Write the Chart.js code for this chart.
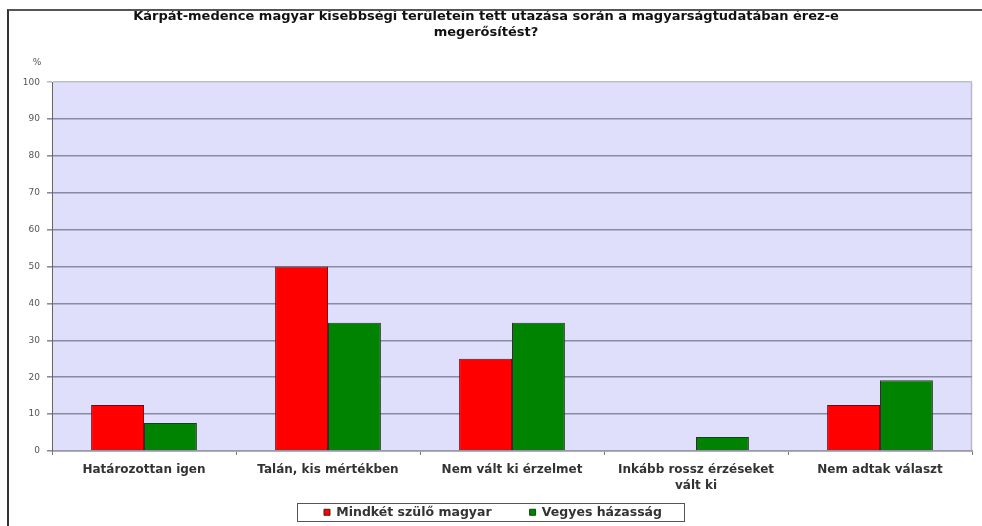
<!DOCTYPE html>
<html>
<head>
<meta charset="utf-8">
<script src="https://cdn.jsdelivr.net/npm/chart.js@4"></script>
<style>
  html, body { margin: 0; padding: 0; background: #fff; }
  #wrap { position: absolute; left: 0; top: 0; width: 982px; height: 526px; }
  #frame { position: absolute; left: 7px; top: 9px; right: 0; bottom: -2px;
           border-top: 2px solid #555; border-left: 2px solid #333; }
</style>
</head>
<body>
<div id="wrap">
  <div id="frame"></div>
  <canvas id="myChart" width="982" height="526"></canvas>
</div>
<script>
var categories = [
  "Határozottan igen",
  "Talán, kis mértékben",
  "Nem vált ki érzelmet",
  ["Inkább rossz érzéseket", "vált ki"],
  "Nem adtak választ"
];
var seriesNames = ["Mindkét szülő magyar", "Vegyes házasság"];
var bothHungarian = [12.5, 50, 25, 0, 12.5];
var mixedMarriage = [7.6, 34.8, 34.8, 3.8, 19.2];
var barColors = ["#ff0000", "#008300"];
var yTicks = [0, 10, 20, 30, 40, 50, 60, 70, 80, 90, 100];

var plotBackground = {
  id: "plotBackground",
  afterLayout: function (chart) {
    // legend keeps wide item spacing but sits low, below the axis labels
    var lg = chart.legend;
    lg.top = 468;
    lg.bottom = chart.height;
    lg.height = lg.bottom - lg.top;
    lg.left += 7;
    lg.right += 7;
  },
  beforeDraw: function (chart) {
    var a = chart.chartArea, ctx = chart.ctx;
    ctx.save();
    ctx.fillStyle = "#dfdffb";
    ctx.fillRect(a.left, a.top, a.right - a.left, a.bottom - a.top);
    ctx.strokeStyle = "#b8b8c8";
    ctx.lineWidth = 1.5;
    ctx.beginPath();
    ctx.moveTo(a.right - 0.5, a.top);
    ctx.lineTo(a.right - 0.5, a.bottom);
    ctx.stroke();
    ctx.restore();
  },
  afterDraw: function (chart) {
    var a = chart.chartArea, ctx = chart.ctx;
    ctx.save();
    ctx.fillStyle = "#555";
    ctx.font = "9px 'DejaVu Sans'";
    ctx.textAlign = "center";
    ctx.fillText("%", a.left - 15, a.top - 20);
    // legend frame
    var boxes = chart.legend.legendHitBoxes;
    if (boxes && boxes.length) {
      var l = Infinity, r = -Infinity, t = Infinity, b = -Infinity;
      boxes.forEach(function (h) {
        l = Math.min(l, h.left); r = Math.max(r, h.left + h.width);
        t = Math.min(t, h.top); b = Math.max(b, h.top + h.height);
      });
      var mid = (t + b) / 2;
      ctx.strokeStyle = "#555";
      ctx.lineWidth = 1;
      ctx.strokeRect(Math.round(l - 27) + 0.5, Math.round(mid - 9) + 0.5,
                     Math.round(r - l + 49), 18);
    }
    ctx.restore();
  }
};

new Chart("myChart", {
  type: "bar",
  data: {
    labels: categories,
    datasets: [{
      label: seriesNames[0],
      data: bothHungarian,
      backgroundColor: barColors[0],
      borderColor: "#3a2020",
      borderWidth: 1,
      categoryPercentage: 0.575,
      barPercentage: 1
    }, {
      label: seriesNames[1],
      data: mixedMarriage,
      backgroundColor: barColors[1],
      borderColor: "#203a20",
      borderWidth: 1,
      categoryPercentage: 0.575,
      barPercentage: 1
    }]
  },
  options: {
    responsive: false,
    animation: false,
    layout: { padding: { left: 0, right: 10, top: 0, bottom: 0 } },
    plugins: {
      title: {
        display: true,
        text: ["Kárpát-medence magyar kisebbségi területein tett utazása során a magyarságtudatában érez-e",
               "megerősítést?"],
        font: { family: "'DejaVu Sans'", size: 13, weight: "bold" },
        lineHeight: 1.2,
        color: "#111",
        padding: { top: 9, bottom: 42 }
      },
      legend: {
        position: "bottom",
        maxHeight: 30,
        labels: {
          font: { family: "'DejaVu Sans'", size: 12.5, weight: "bold" },
          color: "#333",
          boxWidth: 6,
          boxHeight: 6,
          padding: 38
        }
      },
      tooltip: { enabled: false }
    },
    scales: {
      x: {
        afterFit: function (scale) { scale.height = 45; },
        grid: {
          display: true,
          drawOnChartArea: false,
          offset: true,
          tickLength: 4,
          color: "#777"
        },
        border: { color: "#9a9aaa", width: 1.5 },
        ticks: {
          font: { family: "'DejaVu Sans'", size: 12, weight: "bold", lineHeight: 1.3 },
          color: "#333",
          padding: 7,
          maxRotation: 0,
          autoSkip: false
        }
      },
      y: {
        min: 0,
        max: 100,
        afterFit: function (scale) { scale.width = 52; },
        afterBuildTicks: function (scale) {
          scale.ticks = yTicks.map(function (v) { return { value: v }; });
        },
        grid: {
          color: function (ctx) {
            return ctx.tick && ctx.tick.value === 100 ? "#bcbccc" : "#8a8aa8";
          },
          lineWidth: 1.6,
          tickLength: 5
        },
        border: { color: "#666", width: 1 },
        ticks: {
          font: { family: "'DejaVu Sans'", size: 9 },
          color: "#555",
          padding: 7
        }
      }
    }
  },
  plugins: [plotBackground]
});
</script>
</body>
</html>
